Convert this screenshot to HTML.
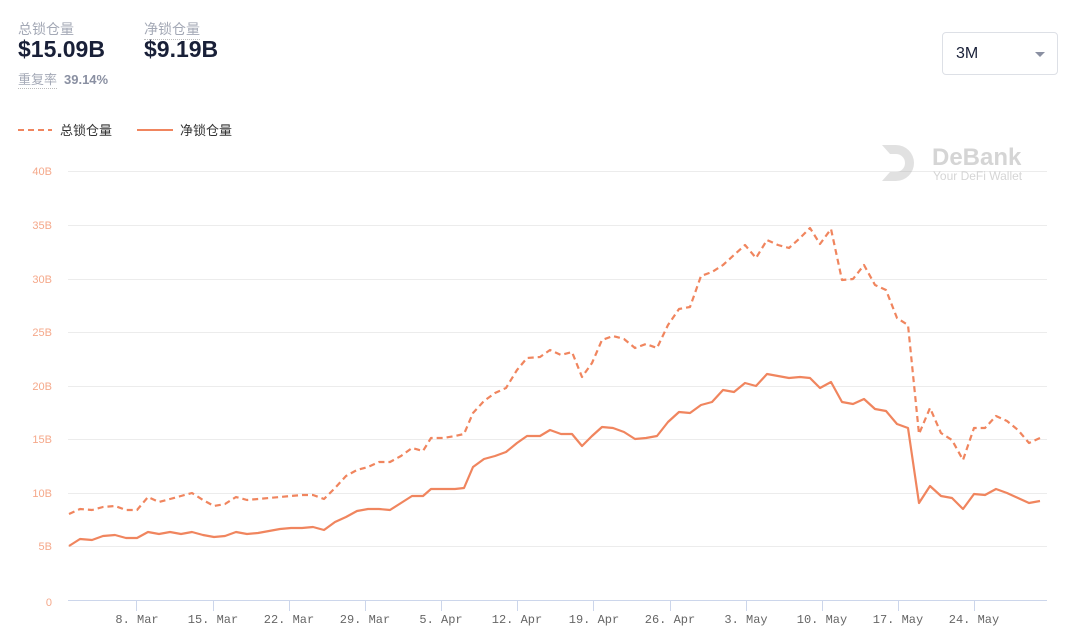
<!DOCTYPE html>
<html><head><meta charset="utf-8"><style>
body{margin:0;width:1080px;height:640px;background:#fff;font-family:"Liberation Sans","Noto Sans CJK SC",sans-serif;position:relative;overflow:hidden}
.t{position:absolute}
</style></head><body>
<div class="t" style="left:18px;top:19px;font-size:14px;color:#a4a9b6">总锁仓量</div>
<div class="t" style="left:18px;top:36px;font-size:23px;font-weight:bold;color:#192038">$15.09B</div>
<div class="t" style="left:144px;top:19px;font-size:14px;color:#a4a9b6;border-bottom:1px dotted #bbb">净锁仓量</div>
<div class="t" style="left:144px;top:36px;font-size:23px;font-weight:bold;color:#192038">$9.19B</div>
<div class="t" style="left:18px;top:71px;font-size:13px;line-height:17px;color:#a4a9b6;border-bottom:1px dotted #bbb">重复率</div>
<div class="t" style="left:64px;top:71px;font-size:13px;line-height:17px;color:#8a90a2;font-weight:bold">39.14%</div>
<div class="t" style="left:942px;top:32px;width:116px;height:43px;border:1px solid #dde0e6;border-radius:4px;box-sizing:border-box"></div>
<div class="t" style="left:956px;top:45px;font-size:16px;color:#192038">3M</div>
<div class="t" style="left:1035px;top:52px;width:0;height:0;border-left:5px solid transparent;border-right:5px solid transparent;border-top:5px solid #8a90a2"></div>
<svg class="t" style="left:0;top:0" width="1080" height="640">
<line x1="18" y1="130" x2="52" y2="130" stroke="#f0855e" stroke-width="2" stroke-dasharray="6,4"/>
<text x="60" y="135" font-size="13" fill="#333" font-family="Noto Sans CJK SC,sans-serif">总锁仓量</text>
<line x1="137" y1="130" x2="173" y2="130" stroke="#f0855e" stroke-width="2"/>
<text x="180" y="135" font-size="13" fill="#333" font-family="Noto Sans CJK SC,sans-serif">净锁仓量</text>
<g stroke="#ececec" stroke-width="1">
<line x1="68" y1="171.5" x2="1047" y2="171.5"/><line x1="68" y1="225.5" x2="1047" y2="225.5"/>
<line x1="68" y1="279.5" x2="1047" y2="279.5"/><line x1="68" y1="332.5" x2="1047" y2="332.5"/>
<line x1="68" y1="386.5" x2="1047" y2="386.5"/><line x1="68" y1="439.5" x2="1047" y2="439.5"/>
<line x1="68" y1="493.5" x2="1047" y2="493.5"/><line x1="68" y1="546.5" x2="1047" y2="546.5"/>
</g>
<g font-size="11" fill="#f5a88a" text-anchor="end" font-family="Liberation Sans,sans-serif">
<text x="52" y="175">40B</text><text x="52" y="229">35B</text><text x="52" y="283">30B</text><text x="52" y="336">25B</text>
<text x="52" y="390">20B</text><text x="52" y="443">15B</text><text x="52" y="497">10B</text><text x="52" y="550">5B</text><text x="52" y="606">0</text>
</g>
<line x1="68" y1="600.5" x2="1047" y2="600.5" stroke="#ccd6eb"/>
<g stroke="#ccd6eb">
<line x1="136.5" y1="600" x2="136.5" y2="611"/><line x1="213.5" y1="600" x2="213.5" y2="611"/><line x1="289.5" y1="600" x2="289.5" y2="611"/>
<line x1="365.5" y1="600" x2="365.5" y2="611"/><line x1="441.5" y1="600" x2="441.5" y2="611"/><line x1="517.5" y1="600" x2="517.5" y2="611"/>
<line x1="593.5" y1="600" x2="593.5" y2="611"/><line x1="670.5" y1="600" x2="670.5" y2="611"/><line x1="746.5" y1="600" x2="746.5" y2="611"/>
<line x1="822.5" y1="600" x2="822.5" y2="611"/><line x1="898.5" y1="600" x2="898.5" y2="611"/><line x1="974.5" y1="600" x2="974.5" y2="611"/>
</g>
<g font-size="12" fill="#666" text-anchor="middle" font-family="Liberation Mono,monospace">
<text x="137" y="623">8. Mar</text><text x="213" y="623">15. Mar</text><text x="289" y="623">22. Mar</text><text x="365" y="623">29. Mar</text>
<text x="441" y="623">5. Apr</text><text x="517" y="623">12. Apr</text><text x="594" y="623">19. Apr</text><text x="670" y="623">26. Apr</text>
<text x="746" y="623">3. May</text><text x="822" y="623">10. May</text><text x="898" y="623">17. May</text><text x="974" y="623">24. May</text>
</g>
<g opacity="0.35">
<path d="M882 145 h14 a17 17 0 0 1 0 36 h-14 l8 -9 h6 a9 9 0 0 0 0 -18 h-6z" fill="#aaa"/>
<text x="932" y="165" font-size="24" font-weight="bold" fill="#888" font-family="Liberation Sans,sans-serif">DeBank</text>
<text x="933" y="180" font-size="12" fill="#888" font-family="Liberation Sans,sans-serif">Your DeFi Wallet</text>
</g>
<polyline fill="none" stroke="#f0855e" stroke-width="2.2" stroke-dasharray="6,4" stroke-linejoin="round" points="69,514 80,509 92,510 103,507 115,506 126,510 137,510 148,497 159,502 170,499 181,496 192,493 203,500 214,506 225,504 236,497 247,500 258,499 269,498 280,497 291,496 302,495 313,495 324,499 335,488 346,476 357,470 368,467 379,462 390,462 401,456 412,448 423,451 431,438 443,438 455,436 464,434 473,413 484,401 495,393 506,388 517,370 527,358 540,357 550,350 561,355 572,352 582,377 592,363 602,340 613,336 624,339 635,348 646,344 657,348 668,325 679,309 690,307 701,276 712,272 723,265 734,255 745,245 756,258 767,240 778,245 789,248 800,238 810,228 820,244 831,229 842,280 853,279 864,265 875,285 886,290 897,318 908,325 919,434 930,408 941,433 952,440 963,460 974,428 985,428 996,416 1007,421 1018,430 1029,443 1040,438"/>
<polyline fill="none" stroke="#f0855e" stroke-width="2.2" stroke-linejoin="round" points="69,546 80,539 92,540 103,536 115,535 126,538 137,538 148,532 159,534 170,532 181,534 192,532 203,535 214,537 225,536 236,532 247,534 258,533 269,531 280,529 291,528 302,528 313,527 324,530 335,522 346,517 357,511 368,509 379,509 390,510 401,503 412,496 423,496 431,489 443,489 455,489 464,488 473,467 484,459 495,456 506,452 517,443 527,436 540,436 550,430 561,434 572,434 582,446 592,436 602,427 613,428 624,432 635,439 646,438 657,436 668,422 679,412 690,413 701,405 712,402 723,390 734,392 745,383 756,386 767,374 778,376 789,378 800,377 810,378 820,388 831,382 842,402 853,404 864,399 875,409 886,411 897,424 908,428 919,503 930,486 941,496 952,498 963,509 974,494 985,495 996,489 1007,493 1018,498 1029,503 1040,501"/>
</svg>
</body></html>
